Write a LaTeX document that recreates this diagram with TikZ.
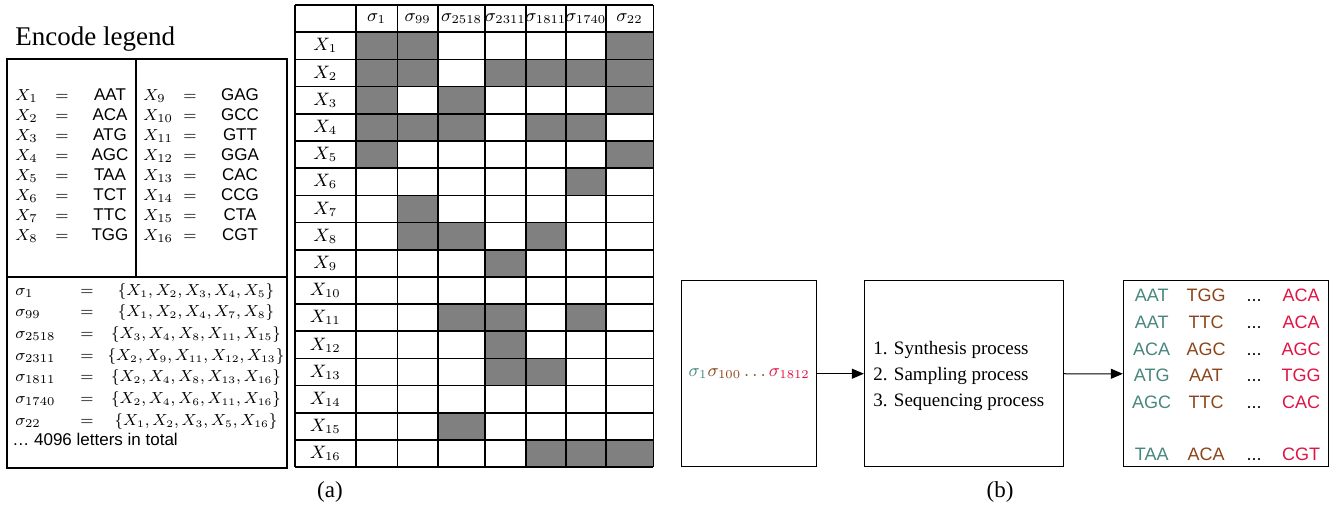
\documentclass[tikz,border=0pt]{standalone}
\usepackage{fontspec}
\setmainfont{Liberation Serif}
\setsansfont{Liberation Sans}
\usetikzlibrary{arrows.meta, positioning, calc}
\definecolor{seqteal}{RGB}{70, 134, 126}
\definecolor{seqbrown}{RGB}{140, 68, 24}
\definecolor{seqred}{RGB}{222, 20, 68}
\definecolor{cellgray}{RGB}{128, 128, 128}
\tikzset{
  legtxt/.style   = {font=\sffamily\fontsize{8.5}{10}\selectfont, inner sep=0pt},
  settxt/.style   = {font=\fontsize{7.8}{10}\selectfont, inner sep=0pt},
  tabtxt/.style   = {font=\fontsize{9}{10}\selectfont, inner sep=0pt},
  legline/.style  = {line width=0.9pt, black},
  gridline/.style = {line width=0.8pt, black},
  stagebox/.style = {rectangle, draw=black, line width=0.5pt, minimum height=93pt, inner sep=0pt},
  seqtxt/.style   = {font=\sffamily\fontsize{9}{10}\selectfont, inner sep=0pt, anchor=base},
  flow/.style     = {-{Triangle[length=6pt, width=5pt]}, line width=0.5pt, black},
}

\begin{document}
\begin{tikzpicture}[x=0.5pt, y=-0.5pt]
\useasboundingbox (0,0) rectangle (1342,510);

% 编码图例
\node[font=\fontsize{13.5}{16}\selectfont, anchor=base west, inner sep=0pt] (leg_title) at (15,45) {Encode legend};
\draw[legline] (7,59) rectangle (287,468);
\draw[legline] (136,59) -- (136,277);
\draw[legline] (7,277) -- (287,277);

% X 与碱基对应
\foreach \i/\ca/\cb in {1/AAT/GAG, 2/ACA/GCC, 3/ATG/GTT, 4/AGC/GGA, 5/TAA/CAC, 6/TCT/CCG, 7/TTC/CTA, 8/TGG/CGT} {
  \pgfmathsetmacro{\yb}{100+20*(\i-1)}
  \pgfmathtruncatemacro{\j}{\i+8}
  \node[legtxt, anchor=base west] (xa\i) at (15,\yb) {$X_{\i}$};
  \node[legtxt, anchor=base] (ea\i) at (62,\yb) {$=$};
  \node[legtxt, anchor=base] (ca\i) at (110,\yb) {\ca};
  \node[legtxt, anchor=base west] (xb\i) at (143,\yb) {$X_{\j}$};
  \node[legtxt, anchor=base] (eb\i) at (190,\yb) {$=$};
  \node[legtxt, anchor=base] (cb\i) at (240,\yb) {\cb};
}

% sigma 字母集合
\foreach \s/\st [count=\k] in {1/{X_1,X_2,X_3,X_4,X_5}, 99/{X_1,X_2,X_4,X_7,X_8}, 2518/{X_3,X_4,X_8,X_{11},X_{15}}, 2311/{X_2,X_9,X_{11},X_{12},X_{13}}, 1811/{X_2,X_4,X_8,X_{13},X_{16}}, 1740/{X_2,X_4,X_6,X_{11},X_{16}}, 22/{X_1,X_2,X_3,X_5,X_{16}}} {
  \pgfmathsetmacro{\yb}{295+21.67*(\k-1)}
  \node[legtxt, anchor=base west] (sg\k) at (15,\yb) {$\sigma_{\s}$};
  \node[legtxt, anchor=base] (se\k) at (87,\yb) {$=$};
  \node[settxt, anchor=base] (ss\k) at (196,\yb) {$\{\st\}$};
}
\node[legtxt, anchor=base west] (leg_total) at (12,445) {… 4096 letters in total};

% 表格填充
\foreach \xl/\xr/\rows in {355.7/397.3/{1,2,3,4,5}, 397.3/438/{1,2,4,7,8}, 438/485/{3,4,8,11,15}, 485/525.7/{2,9,11,12,13}, 525.7/566/{2,4,8,13,16}, 566/605.7/{2,4,6,11,16}, 605.7/653.3/{1,2,3,5,16}} {
  \foreach \r in \rows {
    \fill[cellgray] (\xl,{5+27.19*\r}) rectangle (\xr,{5+27.19*(\r+1)});
  }
}

% 表格网格
\foreach \k in {0,...,17} {
  \draw[gridline] (295,{5+27.19*\k}) -- (653.3,{5+27.19*\k});
}
\foreach \xv in {295,355.7,397.3,438,485,525.7,566,605.7,653.3} {
  \draw[gridline] (\xv,5) -- (\xv,467.2);
}

% 表头与行标
\foreach \xm/\s [count=\j] in {376.5/1, 417.65/99, 461.5/2518, 505.35/2311, 545.85/1811, 585.85/1740, 629.5/22} {
  \node[tabtxt] (hd\j) at (\xm,18.6) {$\sigma_{\s}$};
}
\foreach \i in {1,...,16} {
  \node[tabtxt] (xr\i) at (325.3,{5+27.19*\i+13.6}) {$X_{\i}$};
}

\node[font=\fontsize{11.5}{13}\selectfont] (lab_a) at (330,492) {(a)};

% (b) 流程
\node[stagebox, minimum width=67.5pt, font=\fontsize{9}{11}\selectfont] (seq_box) at (749.2,373.7)
  {$\textcolor{seqteal}{\sigma_1}\textcolor{seqbrown}{\sigma_{100}}\,\textcolor{seqbrown}{\ldots}\,\textcolor{seqred}{\sigma_{1812}}$};
\node[stagebox, minimum width=99.35pt] (proc_box) at (963.7,373.7) {};
\node[align=left, anchor=west, inner sep=0pt, font=\fontsize{9.5}{13}\selectfont] (proc_txt) at (873,376)
  {1. Synthesis process\\2. Sampling process\\3. Sequencing process};
\node[stagebox, minimum width=102.5pt] (read_box) at (1225.8,373.8) {};

\foreach \ra/\rb/\rd/\yb [count=\k] in {AAT/TGG/ACA/301.7, AAT/TTC/ACA/328.3, ACA/AGC/AGC/355, ATG/AAT/TGG/381.7, AGC/TTC/CAC/408.3, TAA/ACA/CGT/460} {
  \node[seqtxt, text=seqteal] (rda\k) at (1151.7,\yb) {\ra};
  \node[seqtxt, text=seqbrown] (rdb\k) at (1206,\yb) {\rb};
  \node[seqtxt] (rdc\k) at (1254,\yb) {...};
  \node[seqtxt, text=seqred] (rdd\k) at (1301,\yb) {\rd};
}

% 箭头
\draw[flow] (seq_box) -- (proc_box);
\draw[flow] (proc_box) -- (read_box);

\node[font=\fontsize{11.5}{13}\selectfont] (lab_b) at (1000,492) {(b)};

\end{tikzpicture}
\end{document}
